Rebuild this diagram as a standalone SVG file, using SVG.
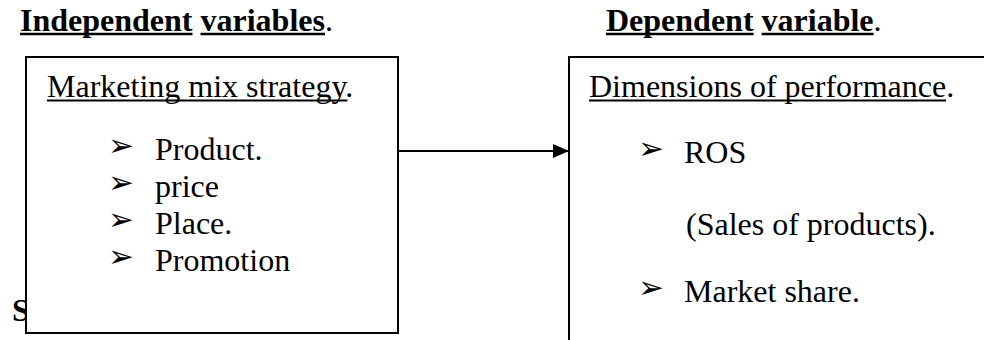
<svg xmlns="http://www.w3.org/2000/svg" width="984" height="340" viewBox="0 0 984 340">
  <style>
    text { font-family: "Liberation Serif", "Times New Roman", serif; font-size: 32px; fill: #000; }
    .b { font-weight: bold; }
    .bullet { font-family: "DejaVu Sans", sans-serif; font-size: 31px; }
    .box { fill: #fff; stroke: #000; stroke-width: 2; }
    .ul { stroke: #000; stroke-width: 1.8; }
    .ul-b { stroke: #000; stroke-width: 2.6; }
    .conn { stroke: #000; stroke-width: 2; fill: none; }
  </style>
  <defs>
    <marker id="arrowhead" viewBox="0 0 16 14" refX="16" refY="7" markerWidth="16" markerHeight="14" markerUnits="userSpaceOnUse" orient="auto">
      <path d="M0,0 L16,7 L0,14 Z" fill="#000"/>
    </marker>
  </defs>

  <rect width="984" height="340" fill="#fff"/>

  <!-- column headings -->
  <g id="heading-independent">
    <text x="20" y="31"><tspan class="b">Independent</tspan> <tspan class="b">variables</tspan>.</text>
    <line class="ul-b" x1="20" y1="34" x2="192.5" y2="34"/>
    <line class="ul-b" x1="200.5" y1="34" x2="325" y2="34"/>
  </g>
  <g id="heading-dependent">
    <text x="606" y="31"><tspan class="b">Dependent</tspan> <tspan class="b">variable</tspan>.</text>
    <line class="ul-b" x1="606" y1="34" x2="753.6" y2="34"/>
    <line class="ul-b" x1="761.6" y1="34" x2="873.6" y2="34"/>
  </g>

  <!-- stray letter partly hidden behind the left box -->
  <text class="b" x="12" y="321">S</text>

  <!-- left box: marketing mix -->
  <g id="node-marketing-mix">
    <rect class="box" x="26" y="57" width="372" height="276"/>
    <text x="47" y="97">Marketing mix strategy.</text>
    <line class="ul" x1="47" y1="100.5" x2="347.4" y2="100.5"/>
    <text class="bullet" x="108" y="156">➢</text>
    <text x="155" y="160">Product.</text>
    <text class="bullet" x="108" y="193">➢</text>
    <text x="155" y="197">price</text>
    <text class="bullet" x="108" y="230">➢</text>
    <text x="155" y="234">Place.</text>
    <text class="bullet" x="108" y="267">➢</text>
    <text x="155" y="271">Promotion</text>
  </g>

  <!-- right box: performance -->
  <g id="node-performance">
    <rect class="box" x="569" y="57" width="440" height="300"/>
    <text x="589" y="97">Dimensions of performance.</text>
    <line class="ul" x1="589" y1="100.5" x2="946" y2="100.5"/>
    <text class="bullet" x="638" y="159">➢</text>
    <text x="684" y="163">ROS</text>
    <text x="686" y="235">(Sales of products).</text>
    <text class="bullet" x="638" y="298">➢</text>
    <text x="684" y="302">Market share.</text>
  </g>

  <g id="connectors">
    <line class="conn" x1="398" y1="151" x2="569" y2="151" marker-end="url(#arrowhead)"/>
  </g>
</svg>
